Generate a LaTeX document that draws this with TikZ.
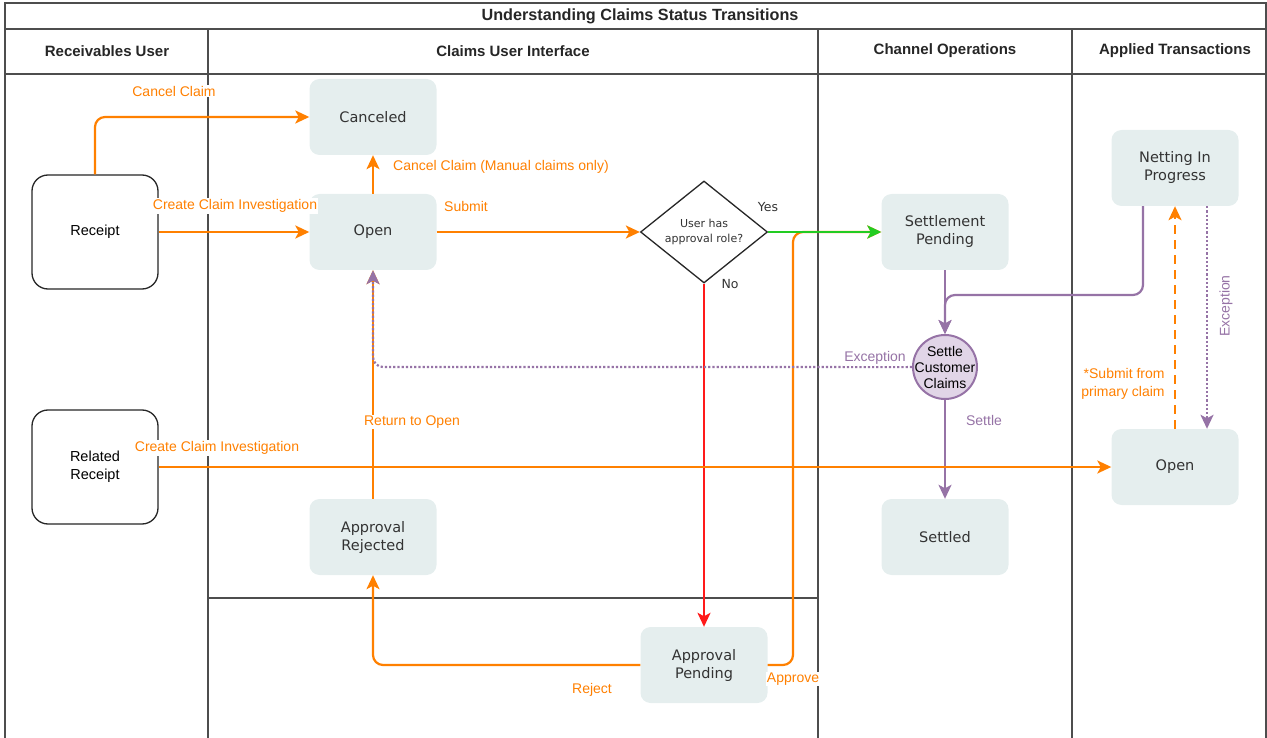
\documentclass[tikz,border=0pt]{standalone}
\usepackage{fontspec}
\setmainfont{Liberation Sans}
\newfontfamily\verd{DejaVu Sans}
\usetikzlibrary{arrows.meta,shapes.geometric,calc}
\definecolor{cOr}{HTML}{FF8000}
\definecolor{cGr}{HTML}{22CC22}
\definecolor{cRd}{HTML}{FF1A1A}
\definecolor{cPu}{HTML}{9673A6}
\definecolor{cBox}{HTML}{E5EEEE}
\definecolor{cCirc}{HTML}{E1D5E7}
\definecolor{cLane}{HTML}{4D4D4D}
\definecolor{cTxt}{HTML}{333333}
\tikzset{
  state/.style={fill=cBox, rounded corners=10pt, minimum width=127pt, minimum height=76pt,
    text=cTxt, font=\verd\fontsize{14.5}{18}\selectfont, align=center, inner sep=0pt},
  actor/.style={draw=black!85, line width=1.3pt, fill=white, rounded corners=16pt,
    minimum width=126pt, minimum height=114pt, font=\fontsize{14.5}{18}\selectfont, align=center, inner sep=0pt},
  lbl/.style={fill=white, inner sep=1pt, text=cOr, font=\fontsize{14}{17}\selectfont, align=center},
  plbl/.style={fill=white, inner sep=1pt, text=cPu, font=\fontsize{14}{17}\selectfont},
  hdr/.style={font=\bfseries\fontsize{15}{18}\selectfont, text=black!85},
  tipk/.tip={Stealth[length=14pt,width=13pt,inset=3.5pt]},
  oarr/.style={draw=cOr, line width=2.2pt, -tipk, rounded corners=10pt},
  parr/.style={draw=cPu, line width=2.2pt, -tipk, rounded corners=10pt},
  lane/.style={draw=cLane, line width=1.3pt},
}
\begin{document}
\begin{tikzpicture}[x=1pt,y=-1pt]
\useasboundingbox (0,0) rectangle (1267,738);
\clip (0,0) rectangle (1267,738);
% swimlane frame
\draw[lane] (5,760) -- (5,3) -- (1266,3) -- (1266,760);
\draw[lane] (5,29) -- (1266,29);
\draw[lane] (5,74) -- (1266,74);
\draw[lane] (208,29) -- (208,760);
\draw[lane] (818,29) -- (818,760);
\draw[lane] (1072,29) -- (1072,760);
\draw[lane] (208,598) -- (818,598);
\node[hdr, font=\bfseries\fontsize{16.2}{18}\selectfont] (title) at (640,16) {Understanding Claims Status Transitions};
\node[hdr] (h1) at (107,51) {Receivables User};
\node[hdr] (h2) at (513,51) {Claims User Interface};
\node[hdr] (h3) at (945,51) {Channel Operations};
\node[hdr] (h4) at (1175,51) {Applied Transactions};
% nodes
\node[actor] (rcpt) at (95,232) {Receipt};
\node[actor] (rr) at (95,467) {Related\\Receipt};
\node[state] (canc) at (373,117) {Canceled};
\node[state] (open) at (373,232) {Open};
\node[state] (ar) at (373,537) {Approval\\Rejected};
\node[state] (ap) at (704,665) {Approval\\Pending};
\node[draw=black!85, line width=1.3pt, diamond, aspect=1.24, minimum width=127pt, minimum height=102pt, inner sep=0pt,
  fill=white, text=cTxt, font=\verd\fontsize{11}{15}\selectfont, align=center] (dia) at (704,232) {User has\\approval role?};
\node[state] (sp) at (945,232) {Settlement\\Pending};
\node[circle, draw=cPu, line width=2pt, fill=cCirc, minimum size=64pt, inner sep=-8pt, align=center,
  font=\fontsize{14}{16}\selectfont] (scc) at (945,367) {Settle\\Customer\\Claims};
\node[state] (stl) at (945,537) {Settled};
\node[state] (nip) at (1175,168) {Netting In\\Progress};
\node[state] (oa) at (1175,467) {Open};
% connectors
\draw[oarr] (rcpt.north) |- (canc.west);
\draw[oarr] (rcpt.east) -- (open.west);
\draw[oarr] (open.north) -- (canc.south);
\draw[oarr] (open.east) -- (dia.west);
\coordinate (apx) at (793,232);
\draw[oarr] (ap.east) -| (apx) -- (sp.west);
\draw[draw=cGr, line width=2.2pt, -tipk] (dia.east) -- (sp.west);
\draw[draw=cRd, line width=2.2pt, -tipk] (dia.south) -- (ap.north);
\draw[oarr] (ap.west) -| (ar.south);
\draw[oarr] (ar.north) -- (open.south);
\draw[parr, dotted] (scc.west) -| (open.south);
\draw[parr] (sp.south) -- (scc.north);
\coordinate (nipl) at ($(nip.south)+(-32,0)$);
\coordinate (mrg) at (945,295);
\draw[parr] (nipl) |- (mrg) -- (scc.north);
\draw[parr] (scc.south) -- (stl.north);
\draw[oarr] (rr.east) -- (oa.west);
\draw[oarr, dashed, dash pattern=on 9pt off 6pt] (oa.north) -- (nip.south);
\coordinate (nipr) at ($(nip.south)+(32,0)$);
\coordinate (oar) at ($(oa.north)+(32,0)$);
\draw[parr, dotted] (nipr) -- (oar);
% labels
\node[lbl] (l1) at (174,91) {Cancel Claim};
\node[lbl] (l2) at (235,206) {Create Claim Investigation};
\node[lbl, anchor=west] (l3) at (392,167) {Cancel Claim (Manual claims only)};
\node[lbl] (l4) at (466,206) {Submit};
\node[text=cTxt, font=\verd\fontsize{12.5}{15}\selectfont] (l5) at (768,207) {Yes};
\node[text=cTxt, font=\verd\fontsize{12.5}{15}\selectfont] (l6) at (730,284) {No};
\node[lbl] (l7) at (793,679) {Approve};
\node[lbl] (l8) at (592,690) {Reject};
\node[lbl] (l9) at (412,422) {Return to Open};
\node[plbl] (l10) at (875,358) {Exception};
\node[plbl] (l11) at (984,420) {Settle};
\node[lbl] (l12) at (217,448) {Create Claim Investigation};
\node[lbl, align=right, font=\fontsize{14}{18}\selectfont] (l13) at (1123,384) {*Submit from\\primary claim};
\node[plbl, rotate=90] (l14) at (1226,306) {Exception};
\end{tikzpicture}
\end{document}
